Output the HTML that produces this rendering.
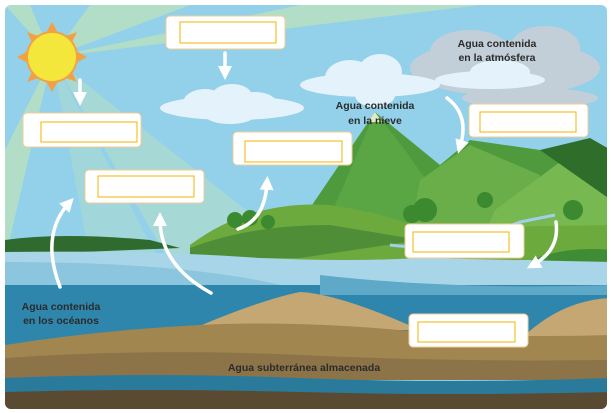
<!DOCTYPE html>
<html><head><meta charset="utf-8"><style>
html,body{margin:0;padding:0;background:#fff;}
svg{display:block;}
text{font-family:"Liberation Sans",sans-serif;font-weight:bold;font-size:10.5px;fill:#2b2b2b;text-anchor:middle;}
</style></head><body>
<svg width="611" height="413" viewBox="0 0 611 413" xmlns="http://www.w3.org/2000/svg">
<defs>
<clipPath id="c"><rect x="5" y="5" width="602" height="404" rx="6"/></clipPath>
<marker id="ah" markerWidth="4" markerHeight="4" refX="2" refY="2" orient="auto" markerUnits="strokeWidth"><path d="M0,0 L4,2 L0,4 Z" fill="#fff"/></marker>
</defs>
<g clip-path="url(#c)">
<rect x="0" y="0" width="611" height="413" fill="#93d1ea"/>
<g fill="#b6dfc4" opacity="0.9">
<polygon points="52,57 90,5 190,5"/>
<polygon points="52,57 300,5 480,5"/>
<polygon points="52,57 5,5 30,5"/>
<polygon points="52,57 5,150 5,260"/>
<polygon points="52,57 150,5 115,5"/>
</g>
<polygon points="52,57 360,300 460,420 260,420" fill="#b6dfc4" opacity="0.55"/>
<polygon points="52,57 180,300 240,420 120,420" fill="#b6dfc4" opacity="0.4"/>
<g fill="#c3cfd8">
<ellipse cx="505" cy="68" rx="95" ry="28"/><ellipse cx="545" cy="48" rx="35" ry="22"/><ellipse cx="470" cy="52" rx="40" ry="22"/><ellipse cx="530" cy="98" rx="68" ry="10"/>
</g>
<g fill="#e4f3fb">
<ellipse cx="370" cy="85" rx="70" ry="12"/><ellipse cx="350" cy="78" rx="25" ry="18"/><ellipse cx="380" cy="72" rx="22" ry="18"/><ellipse cx="375" cy="95" rx="20" ry="12"/>
<ellipse cx="490" cy="80" rx="55" ry="9"/><ellipse cx="500" cy="72" rx="30" ry="12"/>
<ellipse cx="232" cy="108" rx="72" ry="12"/><ellipse cx="205" cy="103" rx="22" ry="14"/><ellipse cx="232" cy="96" rx="20" ry="12"/><ellipse cx="255" cy="104" rx="22" ry="12"/><ellipse cx="230" cy="115" rx="25" ry="9"/>
</g>
<!-- mountains -->
<polygon points="285,245 375,112 440,165 470,140 540,150 611,160 611,250" fill="#4e9a3c"/>
<polygon points="375,112 405,150 440,200 400,240 320,240" fill="#5aa644"/>
<polygon points="420,180 470,145 540,175 520,235 410,235" fill="#6aae4a"/>
<polygon points="495,210 560,162 611,185 611,245 480,245" fill="#78b850"/>
<polygon points="540,150 590,138 611,150 611,200" fill="#2f6e2a"/>
<polygon points="368,122 375,112 382,122" fill="#dfeac6"/>
<path d="M190,245 Q250,200 330,205 Q380,212 420,228 L611,225 L611,260 L190,260 Z" fill="#6caa3e"/>
<path d="M190,248 Q250,225 330,225 L420,240 L300,258 L190,258Z" fill="#4f8e37"/>
<path d="M5,240 Q60,232 150,240 L180,248 L5,255 Z" fill="#2f6b2e"/>
<path d="M520,265 Q560,245 611,250 L611,270 Z" fill="#3f8c35"/>
<g fill="#3b8a30"><circle cx="235" cy="220" r="8"/><circle cx="250" cy="218" r="8"/><circle cx="268" cy="222" r="7"/><circle cx="425" cy="210" r="12"/><circle cx="412" cy="214" r="9"/><circle cx="485" cy="200" r="8"/><circle cx="573" cy="210" r="10"/></g>
<path d="M390,245 Q430,250 460,240 Q500,230 520,222 Q540,218 555,215" stroke="#9fd0e8" stroke-width="3" fill="none"/>
<path d="M5,252 Q150,250 260,258 Q350,262 420,258 L611,262 L611,300 L5,300 Z" fill="#a9d5e8"/>
<path d="M5,262 Q200,262 300,290 L5,300 Z" fill="#8cc5de"/>
<rect x="5" y="285" width="606" height="70" fill="#2e86ad"/>
<path d="M320,275 Q450,290 611,285 L611,295 L320,295 Z" fill="#5ea8c8"/>
<path d="M190,330 Q260,300 300,292 Q340,294 420,330 Z" fill="#c5a773"/>
<path d="M520,340 Q560,300 611,298 L611,345 Z" fill="#c5a773"/>
<path d="M5,345 Q100,330 200,325 Q300,320 420,332 Q520,338 611,335 L611,370 L5,370 Z" fill="#a1864f"/>
<path d="M5,358 Q150,348 300,355 Q450,362 611,360 L611,380 L5,380 Z" fill="#8d7448"/>
<path d="M5,378 Q150,372 300,378 Q450,384 611,378 L611,395 L5,395 Z" fill="#2a7a9c"/>
<path d="M5,392 Q150,388 300,392 Q450,396 611,392 L611,413 L5,413 Z" fill="#5a4a31"/>
<g fill="#f3a043">
<polygon points="52,22 58,33 46,33"/><polygon points="52,92 58,81 46,81"/><polygon points="17,57 28,51 28,63"/><polygon points="87,57 76,51 76,63"/>
<polygon points="27,32 38,36 32,42"/><polygon points="77,82 66,78 72,72"/><polygon points="77,32 72,42 66,36"/><polygon points="27,82 32,72 38,78"/>
</g>
<circle cx="52" cy="57" r="26" fill="#f1a344"/>
<circle cx="52" cy="57" r="24" fill="#f4e73c"/>
</g>
<g stroke="#fff" stroke-width="3.5" fill="none" stroke-linecap="round">
<line x1="225" y1="53" x2="225" y2="73" marker-end="url(#ah)"/>
<line x1="80" y1="80" x2="80" y2="99" marker-end="url(#ah)"/>
<path d="M447,98 Q470,115 460,147" marker-end="url(#ah)"/>
<path d="M238,229 Q265,220 267,183" marker-end="url(#ah)"/>
<path d="M60,287 Q40,235 69,203" marker-end="url(#ah)"/>
<path d="M211,293 Q160,265 160,219" marker-end="url(#ah)"/>
<path d="M556,222 Q560,250 533,265" marker-end="url(#ah)"/>
</g>
<g>
<rect x="166" y="16" width="119" height="33" rx="4" fill="#fff" stroke="#f0cd94"/><rect x="180" y="22" width="96" height="21" fill="#fff" stroke="#f6b400"/>
<rect x="23" y="113" width="118" height="34" rx="4" fill="#fff" stroke="#f0cd94"/><rect x="41" y="122" width="96" height="20" fill="#fff" stroke="#f6b400"/>
<rect x="85" y="170" width="119" height="33" rx="4" fill="#fff" stroke="#f0cd94"/><rect x="98" y="176" width="96" height="21" fill="#fff" stroke="#f6b400"/>
<rect x="233" y="132" width="119" height="33" rx="4" fill="#fff" stroke="#f0cd94"/><rect x="245" y="141" width="97" height="21" fill="#fff" stroke="#f6b400"/>
<rect x="469" y="104" width="119" height="33" rx="4" fill="#fff" stroke="#f0cd94"/><rect x="480" y="112" width="96" height="20" fill="#fff" stroke="#f6b400"/>
<rect x="405" y="224" width="119" height="34" rx="4" fill="#fff" stroke="#f0cd94"/><rect x="413" y="232" width="96" height="20" fill="#fff" stroke="#f6b400"/>
<rect x="409" y="314" width="119" height="33" rx="4" fill="#fff" stroke="#f0cd94"/><rect x="418" y="322" width="97" height="20" fill="#fff" stroke="#f6b400"/>
</g>
<text x="497" y="47">Agua contenida</text><text x="497" y="61">en la atmósfera</text>
<text x="375" y="109">Agua contenida</text><text x="375" y="124">en la nieve</text>
<text x="61" y="310">Agua contenida</text><text x="61" y="324">en los océanos</text>
<text x="304" y="371">Agua subterránea almacenada</text>
</svg>
</body></html>
